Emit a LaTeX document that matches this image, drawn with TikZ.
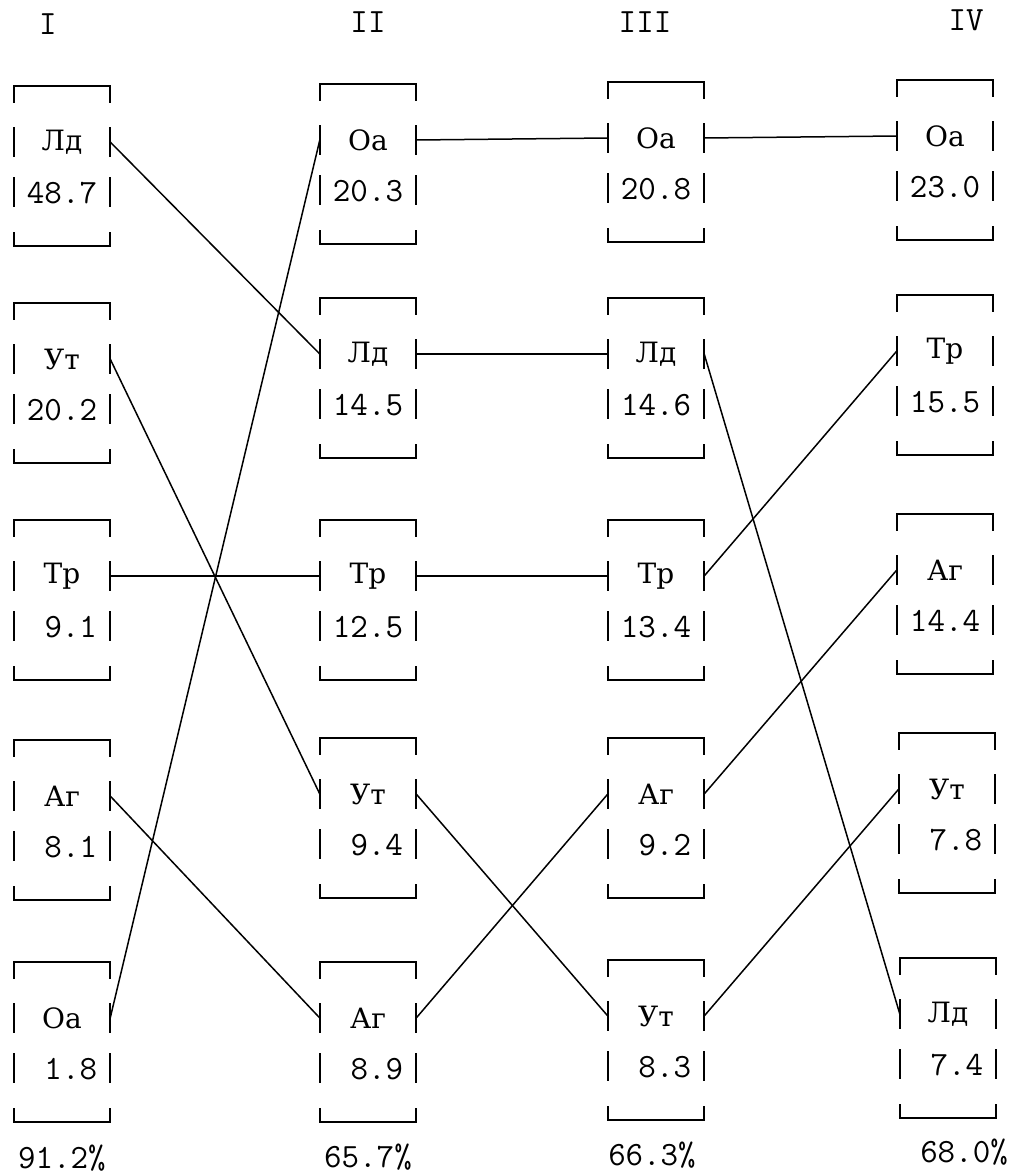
\documentclass[tikz,border=0pt]{standalone}
\usepackage{fontspec}
\newfontfamily\cyr{DejaVu Serif}
\begin{document}
\begin{tikzpicture}[x=1pt,y=-1pt,
  frame/.style={line width=2.2pt,line cap=rect},
  bar/.style={line width=2.6pt},
  conn/.style={line width=1.5pt},
  lab/.style={inner sep=0pt,minimum width=96pt,font=\cyr\fontsize{28}{32}\selectfont},
  num/.style={inner sep=0pt,minimum width=96pt,font=\ttfamily\fontsize{34}{40}\selectfont},
  head/.style={inner sep=0pt,font=\ttfamily\fontsize{34}{40}\selectfont}]
\useasboundingbox[fill=white] (0,0) rectangle (1012,1175);
\newcommand\mkbox[5]{%
  \begin{scope}[shift={(#2,#3)}]
    \draw[frame] (0,16) -- (0,0) -- (96,0) -- (96,16);
    \draw[frame] (0,147) -- (0,160) -- (96,160) -- (96,147);
    \draw[bar] (0,41) -- (0,71) (96,41) -- (96,71) (0,91) -- (0,121) (96,91) -- (96,121);
    \node[lab] (#1) at (48,56) {#4};
    \node[num] (#1n) at (48,107) {#5};
  \end{scope}}
\newcommand\ph{\phantom{0}}
% headers
\node[head] (h1) at (48,24) {I};
\node[head] (h2) at (368,22) {II};
\node[head] (h3) at (645,22) {III};
\node[head] (h4) at (966,20) {IV};
% column I
\mkbox{aLd}{14}{86}{Лд}{48.7}
\mkbox{aUt}{14}{303}{Ут}{20.2}
\mkbox{aTr}{14}{520}{Тр}{\ph9.1}
\mkbox{aAg}{14}{740}{Аг}{\ph8.1}
\mkbox{aOa}{14}{962}{Оа}{\ph1.8}
% column II
\mkbox{bOa}{320}{84}{Оа}{20.3}
\mkbox{bLd}{320}{298}{Лд}{14.5}
\mkbox{bTr}{320}{520}{Тр}{12.5}
\mkbox{bUt}{320}{738}{Ут}{\ph9.4}
\mkbox{bAg}{320}{962}{Аг}{\ph8.9}
% column III
\mkbox{cOa}{608}{82}{Оа}{20.8}
\mkbox{cLd}{608}{298}{Лд}{14.6}
\mkbox{cTr}{608}{520}{Тр}{13.4}
\mkbox{cAg}{608}{738}{Аг}{\ph9.2}
\mkbox{cUt}{608}{960}{Ут}{\ph8.3}
% column IV
\mkbox{dOa}{897}{80}{Оа}{23.0}
\mkbox{dTr}{897}{295}{Тр}{15.5}
\mkbox{dAg}{897}{514}{Аг}{14.4}
\mkbox{dUt}{899}{733}{Ут}{\ph7.8}
\mkbox{dLd}{900}{958}{Лд}{\ph7.4}
% totals
\node[head] (p1) at (62,1158) {91.2\%};
\node[head] (p2) at (368,1157) {65.7\%};
\node[head] (p3) at (652,1155) {66.3\%};
\node[head] (p4) at (964,1152) {68.0\%};
% connectors
\draw[conn] (aLd.east) -- (bLd.west);
\draw[conn] (aUt.east) -- (bUt.west);
\draw[conn] (aTr.east) -- (bTr.west);
\draw[conn] (aAg.east) -- (bAg.west);
\draw[conn] (aOa.east) -- (bOa.west);
\draw[conn] (bOa.east) -- (cOa.west);
\draw[conn] (bLd.east) -- (cLd.west);
\draw[conn] (bTr.east) -- (cTr.west);
\draw[conn] (bUt.east) -- (cUt.west);
\draw[conn] (bAg.east) -- (cAg.west);
\draw[conn] (cOa.east) -- (dOa.west);
\draw[conn] (cLd.east) -- (dLd.west);
\draw[conn] (cTr.east) -- (dTr.west);
\draw[conn] (cAg.east) -- (dAg.west);
\draw[conn] (cUt.east) -- (dUt.west);
\end{tikzpicture}
\end{document}
